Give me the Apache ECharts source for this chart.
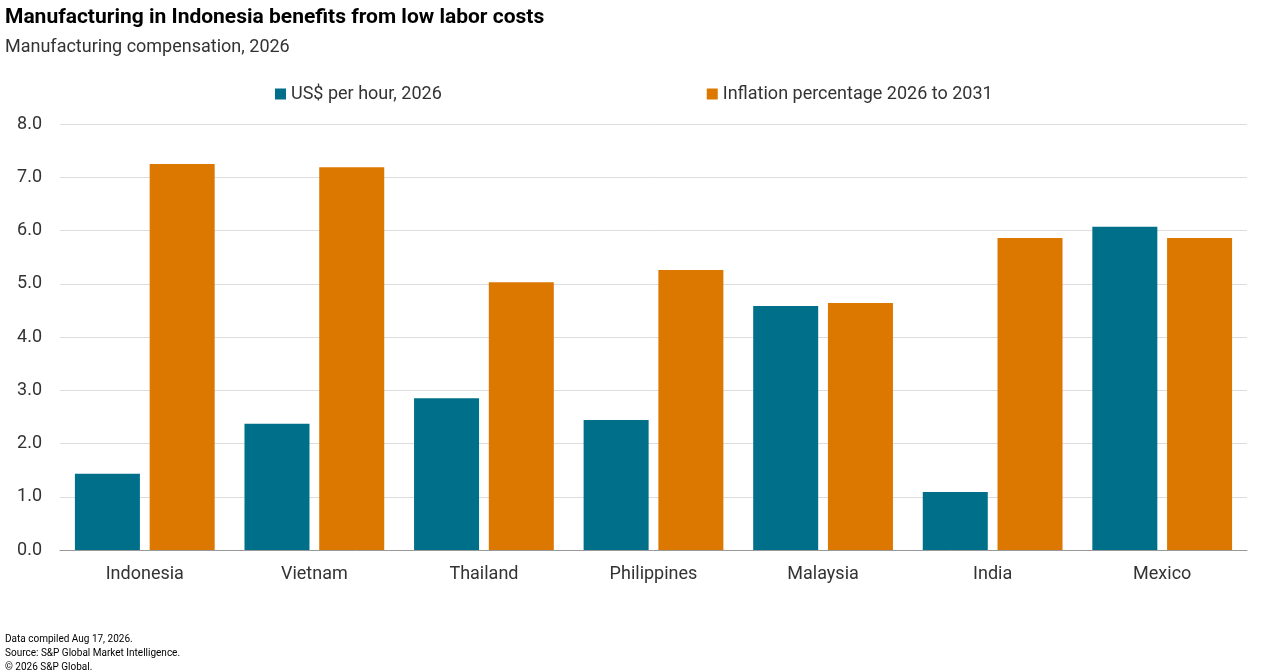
<!DOCTYPE html>
<html>
<head>
<meta charset="utf-8">
<script src="https://cdn.jsdelivr.net/npm/echarts@6/dist/echarts.min.js"></script>
<style>body{margin:0}#c{width:1280px;height:670px}</style>
</head>
<body>
<div id="c"></div>
<script>
var countries = ['Indonesia', 'Vietnam', 'Thailand', 'Philippines', 'Malaysia', 'India', 'Mexico'];
var usdPerHour = [1.43, 2.37, 2.85, 2.44, 4.58, 1.09, 6.07];
var inflation = [7.25, 7.19, 5.03, 5.26, 4.64, 5.86, 5.86];
var seriesNames = ['US$ per hour, 2026', 'Inflation percentage 2026 to 2031'];

var chart = echarts.init(document.getElementById('c'));
chart.setOption({
	textStyle: {fontFamily: 'Roboto'},
	title: [{
		text: 'Manufacturing in Indonesia benefits from low labor costs',
		subtext: 'Manufacturing compensation, 2026',
		left: 0, top: 2,
		textStyle: {fontSize: 21, fontWeight: 'bold', color: '#000'},
		subtextStyle: {fontSize: 18, color: '#333'},
		itemGap: 10
	}, {
		text: 'Data compiled Aug 17, 2026.\nSource: S&P Global Market Intelligence.\n© 2026 S&P Global.',
		left: 0, top: 627,
		textStyle: {fontSize: 10, fontWeight: 'normal', color: '#000', lineHeight: 14}
	}],
	legend: {
		data: seriesNames,
		top: 80, left: 270,
		itemGap: 265,
		itemWidth: 11, itemHeight: 11,
		icon: 'rect',
		textStyle: {fontSize: 18, color: '#333'}
	},
	grid: {left: 60, right: 33, top: 124, bottom: 120},
	xAxis: {
		type: 'category',
		data: countries,
		axisTick: {show: false},
		axisLine: {lineStyle: {color: '#999'}},
		axisLabel: {fontSize: 18, color: '#333', margin: 15}
	},
	yAxis: {
		type: 'value',
		min: 0, max: 8, interval: 1,
		axisLabel: {fontSize: 18, color: '#333', margin: 18,
			formatter: function (v) { return v.toFixed(1); }},
		splitLine: {lineStyle: {color: '#ddd'}}
	},
	series: [{
		name: seriesNames[0], type: 'bar', data: usdPerHour,
		barWidth: 65, barGap: '15%',
		itemStyle: {color: '#006f89'}
	}, {
		name: seriesNames[1], type: 'bar', data: inflation,
		barWidth: 65,
		itemStyle: {color: '#dc7700'}
	}]
});
</script>
</body>
</html>
